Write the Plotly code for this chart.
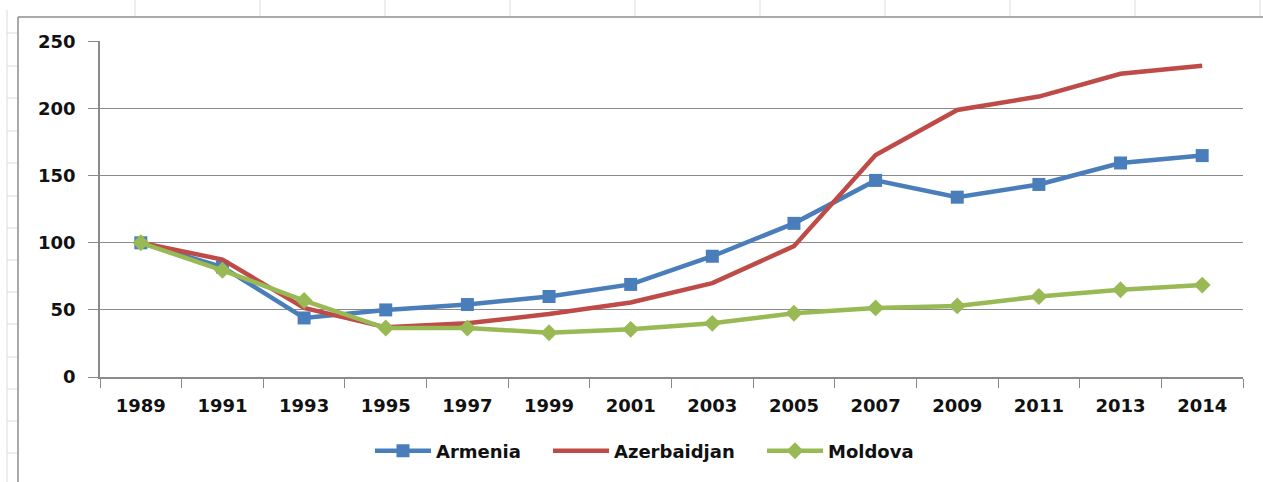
import plotly.graph_objects as go

years = ["1989", "1991", "1993", "1995", "1997", "1999", "2001", "2003",
         "2005", "2007", "2009", "2011", "2013", "2014"]
armenia = [100, 82, 44, 50, 54, 60, 69, 90, 114.5, 146.5, 134, 143.5, 159.5, 165]
azerbaidjan = [100, 87.5, 51.5, 37, 40, 47, 55.5, 70, 97.5, 165.5, 199, 209, 226, 232]
moldova = [100, 79.5, 57, 36.5, 36.5, 33, 35.5, 40, 47.5, 51.5, 53, 60, 65, 68.5]

fig = go.Figure()
fig.add_trace(go.Scatter(x=years, y=armenia, name="Armenia", mode="lines+markers",
                         legend="legend",
                         line=dict(color="#4a7ebb", width=4.5),
                         marker=dict(symbol="square", size=13, color="#4a7ebb")))
fig.add_trace(go.Scatter(x=years, y=azerbaidjan, name="Azerbaidjan", mode="lines",
                         legend="legend2",
                         line=dict(color="#be4b48", width=4.5)))
fig.add_trace(go.Scatter(x=years, y=moldova, name="Moldova", mode="lines+markers",
                         legend="legend3",
                         line=dict(color="#98b954", width=4.5),
                         marker=dict(symbol="diamond", size=13, color="#98b954")))

L, R, T, B = 100, 1243, 41, 377
W, H = 1263, 482


def px(x):
    return (x - L) / (R - L)


def py(y):
    return (B - y) / (B - T)


shapes = []
# chart frame
shapes.append(dict(type="line", xref="paper", yref="paper", x0=px(18), x1=px(1263),
                   y0=py(17), y1=py(17), line=dict(color="#8c8c8c", width=1.5)))
shapes.append(dict(type="line", xref="paper", yref="paper", x0=px(18), x1=px(18),
                   y0=py(17), y1=py(482), line=dict(color="#8c8c8c", width=1.5)))
# spreadsheet gridlines
for xv in [135, 260, 385, 510, 635, 760, 885, 1010, 1135, 1260]:
    shapes.append(dict(type="line", xref="paper", yref="paper", x0=px(xv), x1=px(xv),
                       y0=py(0), y1=py(16), line=dict(color="#dcdcdc", width=1)))
shapes.append(dict(type="line", xref="paper", yref="paper", x0=px(7), x1=px(7),
                   y0=py(10), y1=py(482), line=dict(color="#dcdcdc", width=1)))
for yv in [33, 66, 98, 131, 163, 196, 228, 260, 292, 324, 357, 389, 421, 453]:
    shapes.append(dict(type="line", xref="paper", yref="paper", x0=px(7), x1=px(17),
                       y0=py(yv), y1=py(yv), line=dict(color="#dcdcdc", width=1)))

legfont = dict(size=18, family="DejaVu Sans", weight="bold", color="#111111")
legcommon = dict(orientation="h", yanchor="middle", y=py(451), xanchor="left",
                 font=legfont, itemclick=False, itemdoubleclick=False,
                 itemwidth=56, bgcolor="rgba(0,0,0,0)")

fig.update_layout(
    width=W, height=H,
    margin=dict(l=L, r=W - R, t=T, b=H - B),
    paper_bgcolor="white", plot_bgcolor="white",
    font=dict(family="DejaVu Sans", size=18, color="#111111", weight="bold"),
    showlegend=True,
    legend=dict(x=px(370), **legcommon),
    legend2=dict(x=px(548), **legcommon),
    legend3=dict(x=px(762), **legcommon),
    shapes=shapes,
    xaxis=dict(type="category", range=[-0.5, 13.5], showgrid=False, showline=True,
               linecolor="#8a8a8a", linewidth=1.5, ticks="outside",
               tickson="boundaries", ticklen=9, tickcolor="#8a8a8a",
               tickfont=dict(size=18, weight="bold"), ticklabelstandoff=12,
               fixedrange=True),
    yaxis=dict(range=[0, 250.4], tickvals=[0, 50, 100, 150, 200, 250], showgrid=True,
               gridcolor="#8a8a8a", gridwidth=1.2, showline=True, linecolor="#8a8a8a",
               linewidth=1.5, ticks="outside", ticklen=10, tickcolor="#8a8a8a",
               zeroline=False, tickfont=dict(size=18, weight="bold"),
               ticklabelstandoff=9, fixedrange=True),
)

fig.write_html("out.html", config={"displayModeBar": False},
               post_script="document.body.style.margin='0';")
